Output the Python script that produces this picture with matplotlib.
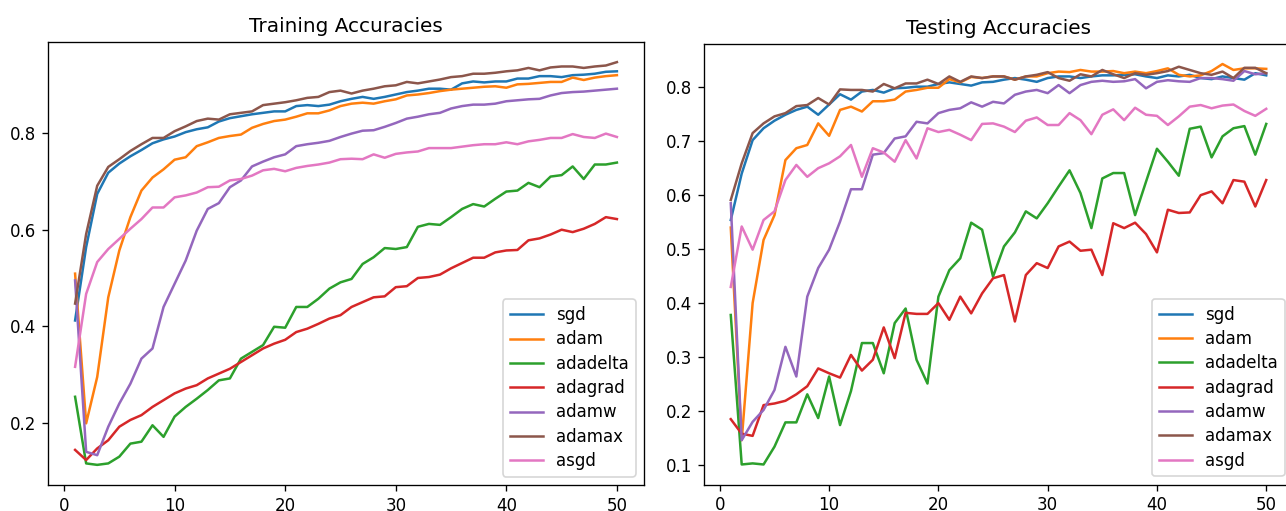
import numpy as np
import matplotlib
matplotlib.use("Agg")
import matplotlib.pyplot as plt

epochs = list(range(1, 51))
optimizers = ["sgd", "adam", "adadelta", "adagrad", "adamw", "adamax", "asgd"]

# ---- training accuracy per epoch ----
train_sgd = [0.412, 0.564, 0.674, 0.718, 0.737, 0.752, 0.765, 0.779, 0.787, 0.793,
             0.802, 0.808, 0.812, 0.824, 0.831, 0.835, 0.839, 0.842, 0.845, 0.845,
             0.856, 0.858, 0.856, 0.859, 0.866, 0.871, 0.875, 0.871, 0.875, 0.880,
             0.885, 0.888, 0.892, 0.892, 0.890, 0.903, 0.907, 0.905, 0.907, 0.907,
             0.913, 0.913, 0.918, 0.918, 0.916, 0.920, 0.921, 0.923, 0.927, 0.928]
train_adam = [0.509, 0.199, 0.295, 0.460, 0.557, 0.626, 0.681, 0.708, 0.725, 0.745,
              0.750, 0.773, 0.781, 0.790, 0.794, 0.797, 0.811, 0.819, 0.825, 0.828,
              0.834, 0.841, 0.841, 0.847, 0.856, 0.861, 0.863, 0.861, 0.866, 0.870,
              0.878, 0.880, 0.883, 0.887, 0.890, 0.892, 0.894, 0.896, 0.897, 0.894,
              0.901, 0.902, 0.904, 0.906, 0.906, 0.915, 0.910, 0.915, 0.918, 0.920]
train_adadelta = [0.254, 0.116, 0.113, 0.116, 0.130, 0.157, 0.161, 0.195, 0.171, 0.213,
                  0.233, 0.250, 0.268, 0.288, 0.292, 0.333, 0.347, 0.361, 0.399, 0.397,
                  0.440, 0.440, 0.457, 0.478, 0.491, 0.498, 0.529, 0.543, 0.562, 0.560,
                  0.564, 0.606, 0.612, 0.610, 0.626, 0.643, 0.653, 0.648, 0.664, 0.679,
                  0.681, 0.697, 0.688, 0.710, 0.713, 0.731, 0.705, 0.735, 0.735, 0.739]
train_adagrad = [0.144, 0.123, 0.147, 0.164, 0.192, 0.206, 0.216, 0.233, 0.247, 0.261,
                 0.271, 0.278, 0.292, 0.302, 0.312, 0.326, 0.340, 0.354, 0.364, 0.372,
                 0.388, 0.395, 0.405, 0.416, 0.423, 0.440, 0.450, 0.460, 0.462, 0.481,
                 0.483, 0.500, 0.502, 0.507, 0.520, 0.531, 0.542, 0.542, 0.553, 0.557,
                 0.558, 0.578, 0.582, 0.590, 0.600, 0.595, 0.602, 0.612, 0.626, 0.622]
train_adamw = [0.495, 0.140, 0.133, 0.192, 0.240, 0.281, 0.333, 0.354, 0.440, 0.488,
               0.536, 0.598, 0.643, 0.655, 0.688, 0.702, 0.731, 0.741, 0.750, 0.756,
               0.773, 0.777, 0.780, 0.784, 0.792, 0.799, 0.805, 0.806, 0.813, 0.821,
               0.830, 0.834, 0.839, 0.842, 0.851, 0.856, 0.859, 0.859, 0.861, 0.866,
               0.868, 0.870, 0.871, 0.878, 0.883, 0.885, 0.886, 0.888, 0.890, 0.892]
train_adamax = [0.447, 0.591, 0.691, 0.730, 0.746, 0.763, 0.777, 0.790, 0.790, 0.804,
                0.814, 0.825, 0.830, 0.828, 0.839, 0.842, 0.845, 0.858, 0.861, 0.864,
                0.868, 0.873, 0.875, 0.885, 0.888, 0.882, 0.888, 0.892, 0.897, 0.899,
                0.906, 0.903, 0.907, 0.911, 0.916, 0.918, 0.923, 0.923, 0.925, 0.928,
                0.930, 0.935, 0.930, 0.936, 0.938, 0.938, 0.935, 0.938, 0.940, 0.947]
train_asgd = [0.316, 0.467, 0.533, 0.560, 0.581, 0.602, 0.622, 0.646, 0.646, 0.667,
              0.671, 0.677, 0.688, 0.689, 0.702, 0.705, 0.712, 0.723, 0.726, 0.721,
              0.728, 0.732, 0.735, 0.739, 0.746, 0.747, 0.746, 0.756, 0.749, 0.757,
              0.760, 0.762, 0.769, 0.769, 0.769, 0.772, 0.775, 0.777, 0.777, 0.781,
              0.777, 0.783, 0.786, 0.790, 0.790, 0.798, 0.792, 0.790, 0.799, 0.792]

# ---- testing accuracy per epoch ----
test_sgd = [0.554, 0.640, 0.702, 0.724, 0.738, 0.749, 0.758, 0.764, 0.749, 0.768,
            0.787, 0.777, 0.792, 0.795, 0.790, 0.798, 0.799, 0.801, 0.801, 0.806,
            0.809, 0.806, 0.803, 0.809, 0.810, 0.814, 0.817, 0.814, 0.810, 0.817,
            0.820, 0.820, 0.817, 0.820, 0.822, 0.822, 0.823, 0.824, 0.820, 0.817,
            0.822, 0.820, 0.823, 0.817, 0.815, 0.820, 0.817, 0.814, 0.826, 0.822]
test_adam = [0.540, 0.146, 0.400, 0.517, 0.563, 0.665, 0.687, 0.693, 0.733, 0.710,
             0.758, 0.764, 0.755, 0.774, 0.774, 0.777, 0.792, 0.795, 0.799, 0.799,
             0.815, 0.809, 0.819, 0.817, 0.820, 0.820, 0.814, 0.820, 0.820, 0.826,
             0.829, 0.828, 0.832, 0.829, 0.829, 0.830, 0.826, 0.829, 0.826, 0.830,
             0.835, 0.823, 0.820, 0.822, 0.830, 0.843, 0.832, 0.835, 0.835, 0.834]
test_adadelta = [0.378, 0.101, 0.103, 0.101, 0.134, 0.179, 0.179, 0.231, 0.187, 0.264,
                 0.174, 0.237, 0.326, 0.326, 0.270, 0.363, 0.390, 0.295, 0.251, 0.412,
                 0.461, 0.483, 0.549, 0.536, 0.449, 0.505, 0.531, 0.570, 0.557, 0.585,
                 0.616, 0.646, 0.604, 0.539, 0.631, 0.641, 0.641, 0.563, 0.625, 0.686,
                 0.662, 0.636, 0.723, 0.727, 0.670, 0.709, 0.724, 0.728, 0.675, 0.732]
test_adagrad = [0.185, 0.158, 0.154, 0.211, 0.214, 0.219, 0.231, 0.246, 0.279, 0.270,
                0.262, 0.304, 0.275, 0.295, 0.355, 0.298, 0.382, 0.380, 0.380, 0.400,
                0.369, 0.412, 0.381, 0.418, 0.446, 0.452, 0.366, 0.452, 0.474, 0.465,
                0.505, 0.514, 0.497, 0.499, 0.452, 0.548, 0.539, 0.549, 0.528, 0.494,
                0.573, 0.567, 0.568, 0.600, 0.607, 0.585, 0.628, 0.625, 0.579, 0.628]
test_adamw = [0.585, 0.146, 0.180, 0.202, 0.239, 0.319, 0.264, 0.412, 0.465, 0.499,
              0.551, 0.611, 0.611, 0.675, 0.678, 0.705, 0.709, 0.736, 0.733, 0.752,
              0.758, 0.761, 0.772, 0.764, 0.773, 0.770, 0.786, 0.792, 0.795, 0.789,
              0.804, 0.789, 0.804, 0.810, 0.812, 0.810, 0.811, 0.815, 0.798, 0.810,
              0.813, 0.811, 0.810, 0.817, 0.817, 0.815, 0.812, 0.830, 0.824, 0.826]
test_adamax = [0.591, 0.659, 0.715, 0.733, 0.746, 0.752, 0.765, 0.767, 0.780, 0.768,
               0.796, 0.795, 0.795, 0.792, 0.806, 0.798, 0.807, 0.807, 0.814, 0.806,
               0.820, 0.810, 0.820, 0.817, 0.820, 0.820, 0.814, 0.820, 0.823, 0.828,
               0.817, 0.812, 0.824, 0.820, 0.832, 0.824, 0.817, 0.826, 0.823, 0.826,
               0.830, 0.838, 0.832, 0.826, 0.823, 0.829, 0.817, 0.836, 0.836, 0.826]
test_asgd = [0.430, 0.542, 0.499, 0.554, 0.570, 0.628, 0.656, 0.634, 0.650, 0.659,
             0.672, 0.693, 0.634, 0.687, 0.679, 0.662, 0.702, 0.668, 0.724, 0.717,
             0.721, 0.712, 0.702, 0.732, 0.733, 0.727, 0.717, 0.738, 0.744, 0.730,
             0.730, 0.752, 0.739, 0.713, 0.749, 0.759, 0.739, 0.762, 0.749, 0.747,
             0.730, 0.746, 0.764, 0.767, 0.761, 0.766, 0.768, 0.756, 0.747, 0.760]

train_curves = [train_sgd, train_adam, train_adadelta, train_adagrad,
                train_adamw, train_adamax, train_asgd]
test_curves = [test_sgd, test_adam, test_adadelta, test_adagrad,
               test_adamw, test_adamax, test_asgd]

DPI = 120
fig = plt.figure(figsize=(1286 / DPI, 511 / DPI), dpi=DPI)

ax_train = fig.add_axes([48 / 1286, 1 - 485 / 511, 596 / 1286, 443 / 511])
ax_test = fig.add_axes([704 / 1286, 1 - 484.5 / 511, 589 / 1286, 440.5 / 511])

for ax, curves, title in [(ax_train, train_curves, "Training Accuracies"),
                          (ax_test, test_curves, "Testing Accuracies")]:
    for name, vals in zip(optimizers, curves):
        ax.plot(epochs, vals, label=name)
    ax.set_title(title)
    ax.legend(loc="lower right", labelspacing=0.38)
    ax.set_xticks([0, 10, 20, 30, 40, 50])

ax_train.set_yticks([0.2, 0.4, 0.6, 0.8])
ax_test.set_yticks([0.1, 0.2, 0.3, 0.4, 0.5, 0.6, 0.7, 0.8])

fig.savefig("out.png", dpi=DPI)
